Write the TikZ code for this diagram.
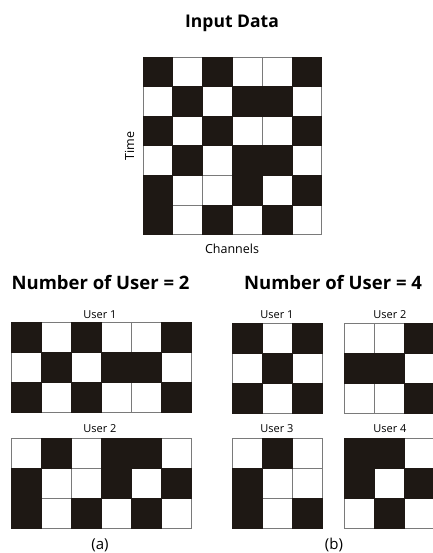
\documentclass[tikz,border=0pt]{standalone}
\usepackage{fontspec}
\setmainfont{Open Sans}
\definecolor{ink}{HTML}{1E1814}
\definecolor{gridgray}{HTML}{7A7A7A}
\tikzset{
  titletext/.style={font=\fontsize{17.5}{20}\selectfont\bfseries, inner sep=0pt, anchor=base},
  headtext/.style={font=\fontsize{18.5}{21}\selectfont\bfseries, inner sep=0pt, anchor=base},
  usertext/.style={font=\fontsize{11}{13}\selectfont, inner sep=0pt, anchor=base},
  axistext/.style={font=\fontsize{12.5}{14}\selectfont, inner sep=0pt, anchor=base},
  captext/.style={font=\fontsize{15}{17}\selectfont, inner sep=0pt, anchor=base},
  whitecell/.style={fill=white, draw=gridgray, line width=0.8pt},
  blackcell/.style={fill=ink, draw=ink, line width=0.8pt},
}
% #1 x0, #2 y0, #3 cell width, #4 cell height, #5 rows
\newcommand\cellgrid[5]{%
  \foreach \rowvals [count=\r from 0] in {#5}{%
    \foreach \v [count=\c from 0] in \rowvals {%
      \ifnum\v=0 \path[whitecell] ({#1+\c*#3},{#2+\r*#4}) rectangle ++(#3,#4);\fi
    }}%
  \foreach \rowvals [count=\r from 0] in {#5}{%
    \foreach \v [count=\c from 0] in \rowvals {%
      \ifnum\v=1 \path[blackcell] ({#1+\c*#3},{#2+\r*#4}) rectangle ++(#3,#4);\fi
    }}%
}
\begin{document}
\begin{tikzpicture}[x=1pt,y=-1pt]
\useasboundingbox (0,0) rectangle (432,553);
\fill[white] (0,0) rectangle (432,553);

% input data
\node[titletext] (title) at (232,27.5) {Input Data};
\cellgrid{143}{57}{29.8}{29.6}{{1,0,1,0,0,1},{0,1,0,1,1,0},{1,0,1,0,0,1},{0,1,0,1,1,0},{1,0,0,1,0,1},{1,0,1,0,1,0}}
\node[axistext, rotate=90] (time) at (134,146) {Time};
\node[axistext] (channels) at (232,253) {Channels};

% (a)
\node[headtext] (heada) at (100.5,289.5) {Number of User = 2};
\node[usertext] (a1lab) at (100,318) {User 1};
\cellgrid{11}{322}{30}{30}{{1,0,1,0,0,1},{0,1,0,1,1,0},{1,0,1,0,0,1}}
\node[usertext] (a2lab) at (100,432) {User 2};
\cellgrid{11}{438}{30}{30}{{0,1,0,1,1,0},{1,0,0,1,0,1},{1,0,1,0,1,0}}
\node[captext] (capa) at (100,549) {(a)};

% (b)
\node[headtext] (headb) at (333,289.5) {Number of User = 4};
\node[usertext] (b1lab) at (277,318) {User 1};
\cellgrid{232}{323.5}{30}{30}{{1,0,1},{0,1,0},{1,0,1}}
\node[usertext] (b2lab) at (390,318) {User 2};
\cellgrid{344.5}{323.5}{30}{30}{{0,0,1},{1,1,0},{0,0,1}}
\node[usertext] (b3lab) at (277,432) {User 3};
\cellgrid{232}{438}{30}{30}{{0,1,0},{1,0,0},{1,0,1}}
\node[usertext] (b4lab) at (390,432) {User 4};
\cellgrid{344.5}{438}{30}{30}{{1,1,0},{1,0,1},{0,1,0}}
\node[captext] (capb) at (334,549) {(b)};
\end{tikzpicture}
\end{document}
